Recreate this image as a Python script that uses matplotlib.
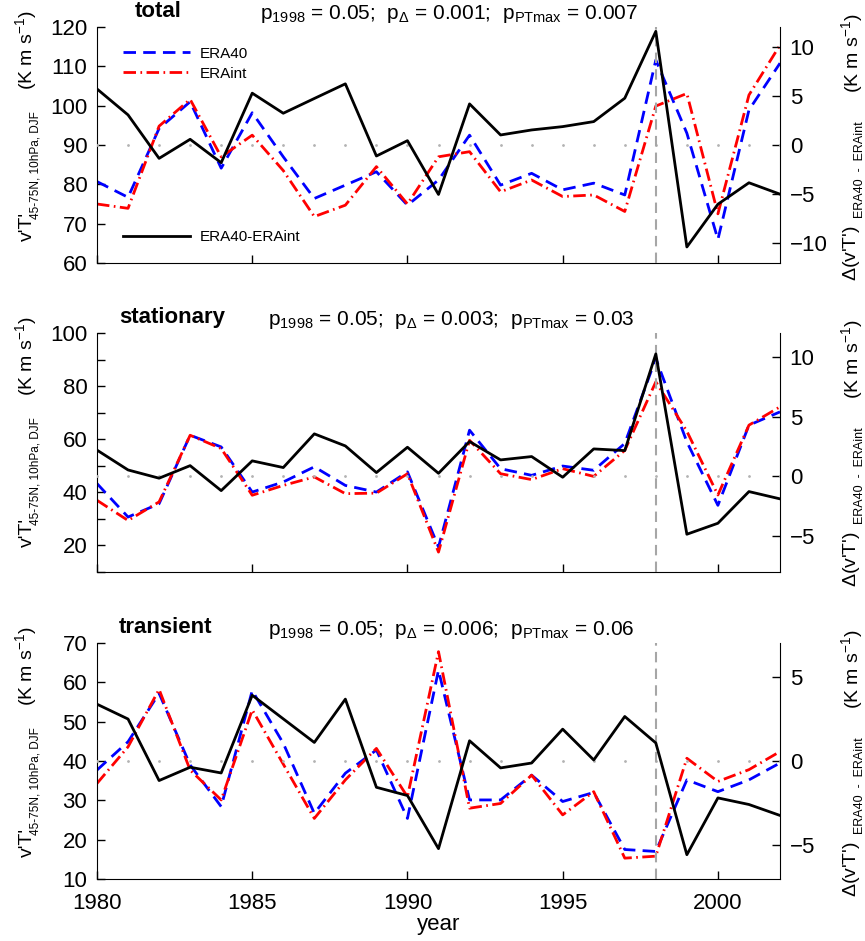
import numpy as np
import matplotlib
matplotlib.use("Agg")
import matplotlib.pyplot as plt

plt.rcParams['font.family'] = ['Liberation Sans', 'DejaVu Sans']
plt.rcParams['mathtext.fontset'] = 'custom'
plt.rcParams['mathtext.rm'] = 'Liberation Sans'
plt.rcParams['mathtext.it'] = 'Liberation Sans'
plt.rcParams['mathtext.default'] = 'regular'

years = np.arange(1980, 2003)

# total
tot_era40 = [80.7, 76.7, 94.2, 101.0, 84.1, 98.2, 87.0, 76.4, 79.8, 83.2, 74.7, 81.1, 92.5,
             79.8, 82.8, 78.6, 80.3, 77.3, 111.6, 93.0, 66.0, 98.9, 110.8]
tot_eraint = [75.0, 73.9, 94.8, 101.6, 87.0, 92.5, 83.5, 71.8, 74.7, 84.5, 75.0, 87.0, 88.3,
              78.1, 81.1, 76.9, 77.3, 73.1, 99.9, 103.1, 72.5, 102.7, 115.4]
tot_diff = [5.7, 3.06, -1.36, 0.58, -1.8, 5.27, 3.23, 4.73, 6.22, -1.12, 0.44, -5.03, 4.18,
            1.02, 1.53, 1.87, 2.38, 4.76, 11.56, -10.37, -6.02, -3.84, -5.0]

# stationary
sta_era40 = [43.3, 30.7, 35.7, 61.5, 57.1, 40.1, 43.9, 49.6, 42.6, 40.1, 47.7, 19.4, 63.4,
             48.9, 46.4, 49.9, 48.3, 58.4, 90.4, 59.0, 35.1, 65.3, 70.3]
sta_eraint = [37.0, 29.4, 36.4, 61.5, 56.5, 38.9, 42.6, 45.8, 39.5, 39.7, 47.0, 17.5, 59.6,
              47.0, 44.8, 48.9, 46.0, 55.8, 81.6, 63.0, 39.0, 65.3, 72.2]
sta_diff = [2.2, 0.54, -0.15, 0.9, -1.19, 1.3, 0.74, 3.56, 2.55, 0.32, 2.44, 0.26, 2.92,
            1.38, 1.66, -0.07, 2.3, 2.16, 10.25, -4.84, -3.92, -1.27, -1.88]

# transient
tra_era40 = [37.7, 44.9, 57.2, 39.0, 28.4, 57.9, 44.5, 26.7, 36.9, 42.8, 25.4, 63.1, 30.1,
             30.1, 36.4, 29.7, 32.0, 17.5, 17.0, 35.2, 32.2, 35.2, 39.5]
tra_eraint = [34.3, 43.6, 58.2, 37.7, 30.1, 53.0, 39.2, 25.4, 35.2, 43.2, 30.9, 67.8, 28.0,
              29.2, 36.4, 26.3, 32.2, 15.3, 15.8, 40.7, 34.8, 37.8, 42.4]
tra_diff = [3.37, 2.49, -1.16, -0.37, -0.71, 3.9, 2.5, 1.1, 3.67, -1.56, -2.05, -5.2, 1.2,
            -0.41, -0.12, 1.89, 0.06, 2.64, 1.07, -5.56, -2.19, -2.58, -3.23]

panels = [
    ("total", "0.001", "0.007", tot_era40, tot_eraint, tot_diff,
     (60, 120), list(range(60, 121, 10)), list(range(60, 121, 10)), (-12, 12), [-10, -5, 0, 5, 10]),
    ("stationary", "0.003", "0.03", sta_era40, sta_eraint, sta_diff,
     (10, 100), list(range(10, 101, 10)), list(range(20, 101, 20)), (-8, 12), [-5, 0, 5, 10]),
    ("transient", "0.006", "0.06", tra_era40, tra_eraint, tra_diff,
     (10, 70), list(range(10, 71, 10)), list(range(10, 71, 10)), (-7, 7), [-5, 0, 5]),
]

W, H = 865, 941
fig = plt.figure(figsize=(W / 100, H / 100), dpi=100)

# axes box in pixels: (left, top, right, bottom)
boxes = [(97, 27, 780, 263), (97, 333, 780, 572), (97, 643, 780, 879)]


def vtext(x, y, s, size, va):
    # rotated label piece, x/y in pixels from top-left
    fig.text(x / W, 1 - y / H, s, rotation=90, ha='center', va=va, fontsize=size)


for i, (name, pd, pmax, e40, eint, diff, ylim, yt, ytl, ylim2, yt2) in enumerate(panels):
    l, t, r, b = boxes[i]
    ax = fig.add_axes([l / W, 1 - b / H, (r - l) / W, (b - t) / H])
    ax2 = ax.twinx()

    ax.plot(years, e40, color='#0000ff', lw=2, ls=(0, (4.5, 2.6)), label='ERA40')
    ax.plot(years, eint, color='#ff0000', lw=2, ls=(0, (4.5, 1.6, 0.6, 1.6)), label='ERAint')
    ax2.plot(years, np.zeros(len(years)), ls='none', marker='.', ms=2, color='0.7')
    ax2.axvline(1998, color='0.65', lw=1.5, ls=(0, (5, 3)))
    ax2.plot(years, diff, color='black', lw=2, label='ERA40-ERAint')

    ax.set_xlim(1980, 2002)
    ax.set_ylim(*ylim)
    ax2.set_ylim(*ylim2)
    ax.set_yticks(yt)
    ax.set_yticklabels([str(v) if v in ytl else '' for v in yt])
    ax2.set_yticks(yt2)
    ax.set_xticks([1980, 1985, 1990, 1995, 2000])
    if i < 2:
        ax.set_xticklabels([])
    else:
        ax.set_xlabel('year', fontsize=16, labelpad=0)

    for a in (ax, ax2):
        a.spines['top'].set_visible(False)
        a.tick_params(direction='in', length=6, width=1, labelsize=16, pad=7)
    ax.spines['right'].set_visible(False)
    ax2.spines['left'].set_visible(False)
    ax2.spines['bottom'].set_visible(False)
    ax.tick_params(axis='x', pad=10)

    fig.text((l + 38) / W if i == 0 else (l + 22) / W, 1 - (t - 10) / H, name,
             fontsize=16, fontweight='bold', va='baseline')
    fig.text((260 if i == 0 else 268) / W, 1 - (t - 8) / H,
             r"p$_{1998}$ = 0.05;  p$_{\Delta}$ = " + pd + r";  p$_{PTmax}$ = " + pmax,
             fontsize=15, va='baseline')

    # left label
    vtext(27, t + 214, "v'T'", 14, 'bottom')
    vtext(36, t + 192, "45-75N, 10hPa, DJF", 8.5, 'bottom')
    vtext(26, t - 17, r"(K m s$^{-1}$)", 14, 'top')
    # right label
    vtext(852, t + 254, r"$\Delta$(v'T')", 14, 'bottom')
    vtext(860, t + 191, "ERA40  -  ERAint", 9, 'bottom')
    vtext(852, t - 14, r"(K m s$^{-1}$)", 14, 'top')

    if i == 0:
        ax.legend(loc='center left', bbox_to_anchor=(0.038, 0.845), frameon=False,
                  fontsize=11, handlelength=4.4, handletextpad=0.6, borderpad=0,
                  borderaxespad=0, labelspacing=0.4)
        ax2.legend(loc='center left', bbox_to_anchor=(0.038, 0.11), frameon=False,
                   fontsize=11, handlelength=4.4, handletextpad=0.6, borderpad=0,
                   borderaxespad=0)

fig.savefig('out.png', dpi=100)
